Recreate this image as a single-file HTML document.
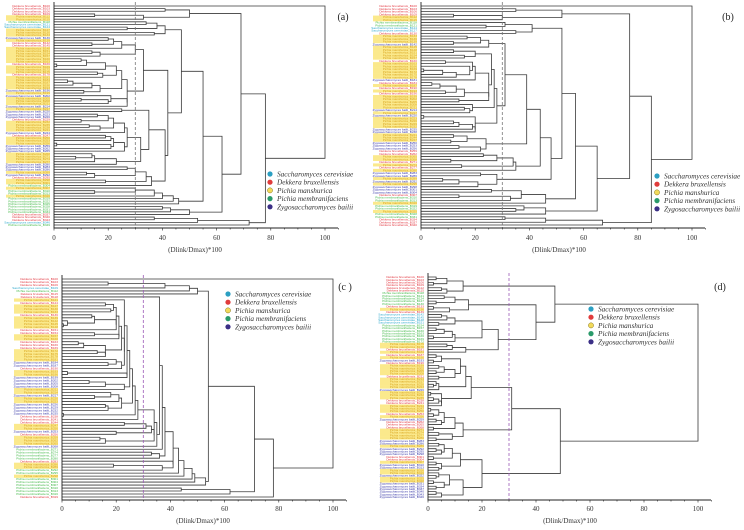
<!DOCTYPE html>
<html><head><meta charset="utf-8"><style>
html,body{margin:0;padding:0;background:#fff;}
svg{display:block;font-family:"Liberation Serif",serif;}
</style></head><body>
<svg id="fig" width="744" height="530" viewBox="0 0 744 530" xmlns="http://www.w3.org/2000/svg"></svg>
<script>
// merge heights between consecutive leaves (Dlink/Dmax*100)
const gapsA = [100,41,50,15,33,69,34,38,27,41,37,47,20,22,14,25,30,14,17,33,10,12,1,19,23,16,18,25,5,7,14,17,11,27,21,10,20,27,42,25,35,16,20,10,22,13,17,26,27,19,21,22,1,21,26,32,14,8,15,23,41,27,30,12,15,34,19,36,55,30,15,37,40,44,46,62,40,43,50,78,37,53,72];
const gapsB = [100,35,52,12,30,77,31,24,41,35,52,17,22,12,25,31,12,20,16,26,9,19,18,1,8,13,20,25,4,7,13,9,16,25,14,27,19,16,18,28,1,20,12,14,19,20,39,12,17,11,24,14,22,44,23,28,11,34,15,35,48,22,28,8,14,21,57,26,37,14,33,46,65,38,35,46,85,31,46,67];
const gapsC = [100,17,38,47,50,54,36,23,16,19,18,20,11,12,2,0.5,20,21,12,21,22,6,8,16,13,16,23,20,17,22,24,2,24,25,10,16,23,26,18,12,21,22,16,17,27,0.5,28,34,23,31,33,20,34,14,16,35,37,38,33,36,41,41,19,37,43,45,48,49,53,71,44,62,78];
const gapsD = [3,7,2,13,5,7,47,6,10,3,15,2,8,40,5,7,10,4,20,3,6,9,2,10,26,7,9,14,100,3,5,2,12,4,6,3,10,4,14,3,2,4,16,1,5,2,4,5,31,1,4,2,6,3,5,10,2,13,4,9,3,49,4,6,3,5,9,2,12,3,5,4,20,4,3,8,2,6,3,13,3,5];
// species class of each leaf (0 cerevisiae,1 dekkera,2 manshurica,3 membranifaciens,4 zygo)
const classA = "111122300222421122222212221222224242224244412222412224442222444241223233233333311103".split('').map(Number);
const classB = "11112233001222422222122222241212122222424222244222444112212124424244413323323311110311".split('').map(Number);
const classC = "1110311212221222211221112222441224444224224444111224122243333122332333333111130033".split('').map(Number);
const classD = "11111133333121000033333332212124122221222242221122212411122224424441124422422444444".split('').map(Number);
const ticks = [0,20,40,60,80,100];
const speciesNames = ["Saccharomyces cerevisiae","Dekkera bruxellensis","Pichia manshurica","Pichia membranifaciens","Zygosaccharomyces bailii"];
const textColors = ["#2fa8cc","#e23b44","#d9a520","#44b94a","#3a3aa8"];
const dotColors = ["#2b9fc2","#e03c3c","#f2da5a","#2a9a6a","#3b2f86"];

const NS="http://www.w3.org/2000/svg";
const svg=document.getElementById('fig');
function mk(tag,attrs,parent){const e=document.createElementNS(NS,tag);for(const k in attrs)e.setAttribute(k,attrs[k]);(parent||svg).appendChild(e);return e;}

const panels=[
 {id:'a',gaps:gapsA,cls:classA,x0:54,x100:325,yTop:6,yBot:225,axisY:228,axisEnd:338,tickY:240,titleX:195,titleY:252,legX:270,legY:174,letter:'(a)',lx:343,ly:20,cut:'#777'},
 {id:'b',gaps:gapsB,cls:classB,x0:421,x100:692,yTop:6,yBot:225,axisY:228,axisEnd:705,tickY:240,titleX:559,titleY:252,legX:657,legY:176,letter:'(b)',lx:728,ly:20,cut:'#777'},
 {id:'c',gaps:gapsC,cls:classC,x0:62,x100:333,yTop:279,yBot:497,axisY:500,axisEnd:346,tickY:511,titleX:203,titleY:523,legX:228,legY:294,letter:'(c )',lx:345,ly:290,cut:'#9b59b6'},
 {id:'d',gaps:gapsD,cls:classD,x0:428,x100:698,yTop:277,yBot:497,axisY:500,axisEnd:711,tickY:511,titleX:570,titleY:523,legX:591,legY:309,letter:'(d)',lx:720,ly:290,cut:'#9b59b6'}
];

panels.forEach(p=>{
  const g=mk('g',{});
  
  
  const n=p.gaps.length+1;
  const xs=v=>p.x0+(p.x100-p.x0)*v/100;
  const ys=i=>p.yTop+(p.yBot-p.yTop)*i/(n-1);
  const step=(p.yBot-p.yTop)/(n-1);
  const lg=mk('g',{},g);
  
  
  for(let i=0;i<n;i++){
    const c=p.cls[i]!==undefined?p.cls[i]:2;
    if(c===2){
      const r=mk('rect',{x:p.x0-48,y:ys(i)-step/2,width:44,height:step+0.3,fill:'#fbe98c'},lg);
      
      
    }
    const t=mk('text',{x:p.x0-4,y:ys(i)+1.1,'font-size':3.1,'text-anchor':'end',fill:textColors[c],'font-family':'Liberation Sans, sans-serif'},lg);
    t.textContent=speciesNames[c]+'_B'+(100+i*3);
    
    
  }
  const tg=mk('g',{stroke:'#3a3a3a','stroke-width':0.8,fill:'none'},g);
  
  
  function build(lo,hi){
    if(lo===hi) return {y:ys(lo),h:0};
    let k=lo;
    for(let j=lo;j<hi;j++) if(p.gaps[j]>p.gaps[k]) k=j;
    const h=p.gaps[k];
    const L=build(lo,k), R=build(k+1,hi);
    const pa=mk('path',{d:`M${xs(L.h)},${L.y}H${xs(h)}V${R.y}H${xs(R.h)}`},tg);
    
    
    return {y:(L.y+R.y)/2,h:h};
  }
  build(0,n-1);
  const cl=mk('line',{x1:xs(30),x2:xs(30),y1:p.yTop-4,y2:p.axisY,stroke:p.cut,'stroke-width':0.8,'stroke-dasharray':'3,2'},g);
  
  
  const ax=mk('path',{d:`M${p.x0},${p.yTop-4}V${p.axisY}H${p.axisEnd}`,stroke:'#222','stroke-width':0.9,fill:'none'},g);
  
  
  for(let v=0;v<=105;v+=5){
    const tk=mk('line',{x1:xs(v),x2:xs(v),y1:p.axisY,y2:p.axisY+(v%20===0?2.5:1.5),stroke:'#222','stroke-width':0.6},g);
    
    
  }
  ticks.forEach(v=>{
    const t=mk('text',{x:xs(v),y:p.tickY,'font-size':7,'text-anchor':'middle',fill:'#333'},g);
    t.textContent=v;
    
    
  });
  const tt=mk('text',{x:p.titleX,y:p.titleY,'font-size':7,'text-anchor':'middle',fill:'#333'},g);
  tt.textContent='(Dlink/Dmax)*100';
  
  
  const lt=mk('text',{x:p.lx,y:p.ly,'font-size':10,'text-anchor':'middle',fill:'#222'},g);
  lt.textContent=p.letter;
  
  
  const lgd=mk('g',{},g);
  
  
  speciesNames.forEach((s,i)=>{
    const y=p.legY+i*8.2;
    const ci=mk('circle',{cx:p.legX,cy:y,r:2.6,fill:dotColors[i],stroke:i===2?'#8a7a20':'none','stroke-width':0.5},lgd);
    
    
    const t=mk('text',{x:p.legX+7,y:y+2.5,'font-size':7.3,'font-style':'italic',fill:'#333'},lgd);
    t.textContent=s;
    
    
  });
});
</script>
</body></html>
